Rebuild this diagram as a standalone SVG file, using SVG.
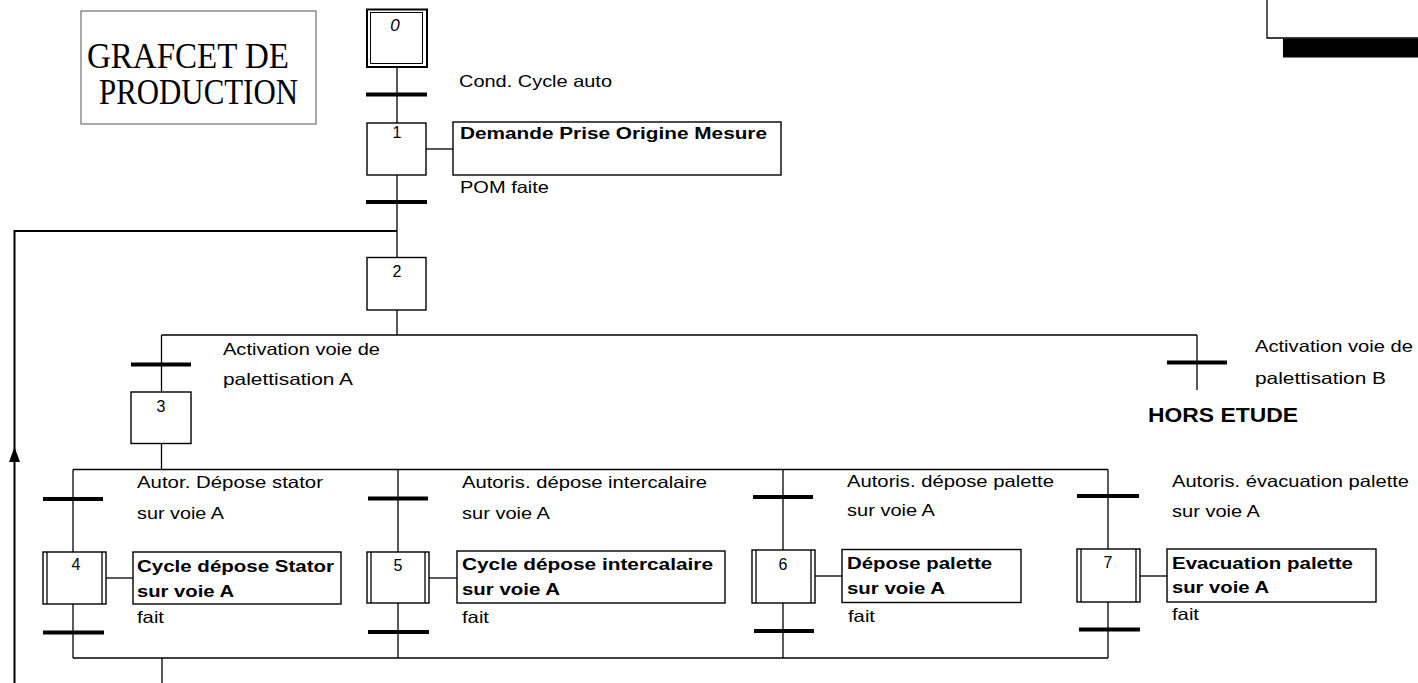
<svg xmlns="http://www.w3.org/2000/svg" width="1418" height="683" viewBox="0 0 1418 683">
<defs>
<style>
.box{fill:#fff;stroke:#000;stroke-width:1.4}
.ln{fill:none;stroke:#000;stroke-width:1.3}
.bar{stroke:#000;stroke-width:4}
.lbl{font-family:"Liberation Sans",Arial,sans-serif;font-size:16.5px;fill:#000}
.act{font-family:"Liberation Sans",Arial,sans-serif;font-size:16px;font-weight:bold;fill:#000}
.num{font-family:"Liberation Sans",Arial,sans-serif;font-size:16px;fill:#000;text-anchor:middle}
.ttl{font-family:"Liberation Serif","Times New Roman",serif;font-size:36px;fill:#000}
</style>
</defs>
<rect width="1418" height="683" fill="#fff"/>

<!-- top-right cropped frame -->
<g id="corner">
<path d="M1267 0 V38 H1418" fill="none" stroke="#000" stroke-width="1.3"/>
<rect x="1283" y="38.5" width="135" height="19" fill="#000"/>
</g>

<g id="title">
<rect x="81" y="11" width="235" height="113" fill="none" stroke="#555" stroke-width="1"/>
<text class="ttl" x="87" y="68" textLength="202" lengthAdjust="spacingAndGlyphs">GRAFCET DE</text>
<text class="ttl" x="99" y="104" textLength="199" lengthAdjust="spacingAndGlyphs">PRODUCTION</text>
</g>

<g id="connectors">
<!-- main axis -->
<line class="ln" x1="397" y1="67" x2="397" y2="123"/>
<line class="ln" x1="397" y1="175" x2="397" y2="257"/>
<line class="ln" x1="397" y1="310" x2="397" y2="335"/>
<!-- loop back -->
<path d="M14.5 683 V231 H397" fill="none" stroke="#000" stroke-width="2"/>
<polygon points="14.5,447 20,462 9,462" fill="#000"/>
<!-- OR divergence -->
<line class="ln" x1="161.5" y1="335" x2="1197" y2="335"/>
<line class="ln" x1="161.5" y1="335" x2="161.5" y2="392"/>
<line class="ln" x1="1197" y1="335" x2="1197" y2="390"/>
<line class="ln" x1="161.5" y1="443" x2="161.5" y2="469.5"/>
<!-- AND frame -->
<line class="ln" x1="73" y1="469.5" x2="1108" y2="469.5"/>
<line class="ln" x1="73" y1="658" x2="1108" y2="658"/>
<line class="ln" x1="73" y1="469.5" x2="73" y2="552"/>
<line class="ln" x1="73" y1="604" x2="73" y2="658"/>
<line class="ln" x1="398" y1="469.5" x2="398" y2="552"/>
<line class="ln" x1="398" y1="603" x2="398" y2="658"/>
<line class="ln" x1="783" y1="469.5" x2="783" y2="550"/>
<line class="ln" x1="783" y1="603" x2="783" y2="658"/>
<line class="ln" x1="1108" y1="469.5" x2="1108" y2="549"/>
<line class="ln" x1="1108" y1="602" x2="1108" y2="658"/>
<line class="ln" x1="162" y1="658" x2="162" y2="683"/>
<!-- action links -->
<line class="ln" x1="426" y1="149" x2="453" y2="149"/>
<line class="ln" x1="106" y1="578" x2="133" y2="578"/>
<line class="ln" x1="429" y1="578" x2="457" y2="578"/>
<line class="ln" x1="815" y1="576" x2="842" y2="576"/>
<line class="ln" x1="1140" y1="576" x2="1167" y2="576"/>
</g>

<g id="transitions">
<line class="bar" x1="366" y1="94.5" x2="427" y2="94.5"/>
<text class="lbl" x="459" y="87" textLength="153" lengthAdjust="spacingAndGlyphs">Cond. Cycle auto</text>
<line class="bar" x1="366" y1="202" x2="427" y2="202"/>
<text class="lbl" x="460" y="193" textLength="89" lengthAdjust="spacingAndGlyphs">POM faite</text>
<line class="bar" x1="131" y1="364.5" x2="191" y2="364.5"/>
<text class="lbl" x="223" y="355" textLength="157" lengthAdjust="spacingAndGlyphs">Activation voie de</text>
<text class="lbl" x="223" y="385" textLength="130" lengthAdjust="spacingAndGlyphs">palettisation A</text>
<line class="bar" x1="1167" y1="362.5" x2="1227" y2="362.5"/>
<text class="lbl" x="1255" y="352" textLength="158" lengthAdjust="spacingAndGlyphs">Activation voie de</text>
<text class="lbl" x="1255" y="384" textLength="131" lengthAdjust="spacingAndGlyphs">palettisation B</text>
<text class="act" x="1148" y="422" style="font-size:20px" textLength="150" lengthAdjust="spacingAndGlyphs">HORS ETUDE</text>

<line class="bar" x1="43" y1="499" x2="103" y2="499"/>
<text class="lbl" x="137" y="488" textLength="186" lengthAdjust="spacingAndGlyphs">Autor. Dépose stator</text>
<text class="lbl" x="137" y="519" textLength="87" lengthAdjust="spacingAndGlyphs">sur voie A</text>
<line class="bar" x1="43" y1="632.5" x2="104" y2="632.5"/>
<text class="lbl" x="137" y="623" textLength="27" lengthAdjust="spacingAndGlyphs">fait</text>

<line class="bar" x1="368" y1="498.5" x2="428" y2="498.5"/>
<text class="lbl" x="462" y="488" textLength="245" lengthAdjust="spacingAndGlyphs">Autoris. dépose intercalaire</text>
<text class="lbl" x="462" y="519" textLength="88" lengthAdjust="spacingAndGlyphs">sur voie A</text>
<line class="bar" x1="368" y1="632" x2="429" y2="632"/>
<text class="lbl" x="462" y="623" textLength="27" lengthAdjust="spacingAndGlyphs">fait</text>

<line class="bar" x1="753" y1="497" x2="813" y2="497"/>
<text class="lbl" x="847" y="487" textLength="207" lengthAdjust="spacingAndGlyphs">Autoris. dépose palette</text>
<text class="lbl" x="847" y="516" textLength="88" lengthAdjust="spacingAndGlyphs">sur voie A</text>
<line class="bar" x1="754" y1="631" x2="814" y2="631"/>
<text class="lbl" x="848" y="622" textLength="27" lengthAdjust="spacingAndGlyphs">fait</text>

<line class="bar" x1="1077" y1="496" x2="1139" y2="496"/>
<text class="lbl" x="1172" y="487" textLength="237" lengthAdjust="spacingAndGlyphs">Autoris. évacuation palette</text>
<text class="lbl" x="1172" y="517" textLength="88" lengthAdjust="spacingAndGlyphs">sur voie A</text>
<line class="bar" x1="1079" y1="629.5" x2="1140" y2="629.5"/>
<text class="lbl" x="1172" y="620" textLength="27" lengthAdjust="spacingAndGlyphs">fait</text>
</g>

<g id="step0">
<rect x="367" y="9.5" width="60" height="57.5" fill="#fff" stroke="#000" stroke-width="2"/>
<rect x="370.5" y="12.5" width="52" height="51" fill="none" stroke="#000" stroke-width="1"/>
<text class="num" x="395" y="31" style="font-style:italic;font-size:17px">0</text>
</g>
<g id="step1">
<rect class="box" x="367" y="123" width="59" height="52"/>
<text class="num" x="397" y="138">1</text>
</g>
<g id="action1">
<rect class="box" x="453" y="122" width="328" height="53"/>
<text class="act" x="460" y="139" textLength="307" lengthAdjust="spacingAndGlyphs">Demande Prise Origine Mesure</text>
</g>
<g id="step2">
<rect class="box" x="367" y="257.5" width="59" height="52.5"/>
<text class="num" x="397" y="277">2</text>
</g>
<g id="step3">
<rect class="box" x="131" y="392" width="60" height="51.5"/>
<text class="num" x="161" y="412">3</text>
</g>

<g id="step4">
<rect class="box" x="43" y="552" width="63" height="52"/>
<line class="ln" x1="47" y1="552" x2="47" y2="604"/>
<line class="ln" x1="102" y1="552" x2="102" y2="604"/>
<text class="num" x="76" y="570">4</text>
</g>
<g id="action4">
<rect class="box" x="133" y="552" width="208" height="52"/>
<text class="act" x="137" y="572" textLength="197" lengthAdjust="spacingAndGlyphs">Cycle dépose Stator</text>
<text class="act" x="137" y="597" textLength="97" lengthAdjust="spacingAndGlyphs">sur voie A</text>
</g>

<g id="step5">
<rect class="box" x="367" y="552" width="62" height="51"/>
<line class="ln" x1="371" y1="552" x2="371" y2="603"/>
<line class="ln" x1="425" y1="552" x2="425" y2="603"/>
<text class="num" x="398" y="571">5</text>
</g>
<g id="action5">
<rect class="box" x="457" y="551" width="268" height="52"/>
<text class="act" x="462" y="570" textLength="251" lengthAdjust="spacingAndGlyphs">Cycle dépose intercalaire</text>
<text class="act" x="462" y="595" textLength="98" lengthAdjust="spacingAndGlyphs">sur voie A</text>
</g>

<g id="step6">
<rect class="box" x="752" y="550" width="63" height="53"/>
<line class="ln" x1="756" y1="550" x2="756" y2="603"/>
<line class="ln" x1="811" y1="550" x2="811" y2="603"/>
<text class="num" x="783" y="570">6</text>
</g>
<g id="action6">
<rect class="box" x="842" y="549.5" width="179" height="53"/>
<text class="act" x="847" y="569" textLength="145" lengthAdjust="spacingAndGlyphs">Dépose palette</text>
<text class="act" x="847" y="594" textLength="98" lengthAdjust="spacingAndGlyphs">sur voie A</text>
</g>

<g id="step7">
<rect class="box" x="1077" y="549" width="63" height="53"/>
<line class="ln" x1="1081" y1="549" x2="1081" y2="602"/>
<line class="ln" x1="1136" y1="549" x2="1136" y2="602"/>
<text class="num" x="1108" y="568">7</text>
</g>
<g id="action7">
<rect class="box" x="1167" y="549" width="209" height="53"/>
<text class="act" x="1172" y="569" textLength="181" lengthAdjust="spacingAndGlyphs">Evacuation palette</text>
<text class="act" x="1172" y="593" textLength="97" lengthAdjust="spacingAndGlyphs">sur voie A</text>
</g>
</svg>
